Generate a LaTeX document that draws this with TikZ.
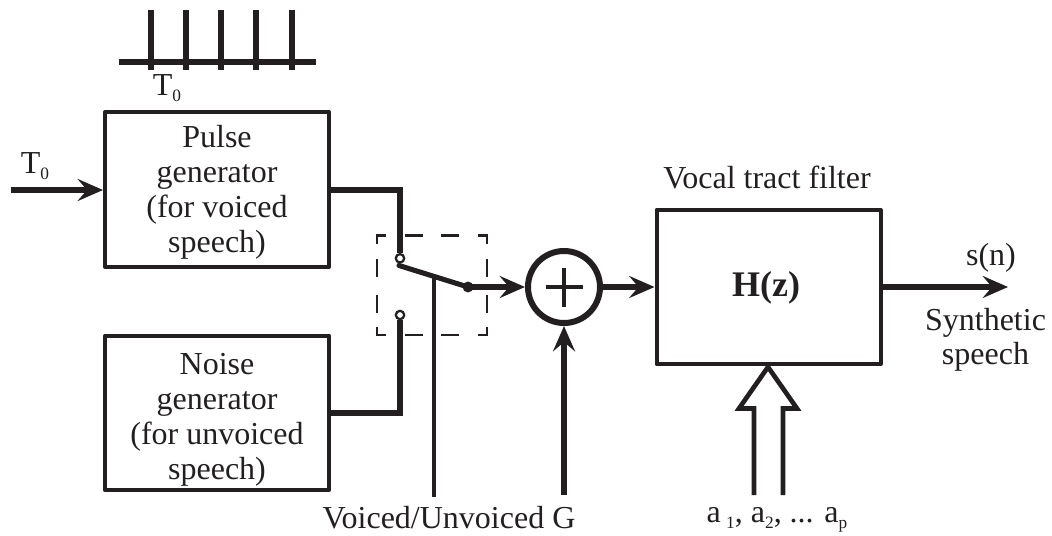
\documentclass[tikz,border=0pt]{standalone}
\usepackage{fontspec}
\setmainfont{Liberation Serif}
\usetikzlibrary{arrows.meta}
\definecolor{ink}{HTML}{231F20}
\tikzset{
  blockbox/.style={draw=ink,line width=3pt,line join=round,minimum width=168pt,minimum height=116pt,inner sep=0pt},
  wire/.style={draw=ink,line width=4.8pt},
  flow/.style={wire,-{Stealth[length=19pt,width=16.5pt,inset=7pt]}},
  thinwire/.style={draw=ink,line width=2.5pt},
  lab/.style={text=ink,inner sep=0pt,align=center,font=\fontsize{24}{25.5}\selectfont},
  blocklab/.style={lab,font=\fontsize{24}{26.2}\selectfont},
  pin/.style={circle,draw=ink,fill=white,line width=1.7pt,minimum size=6.3pt,inner sep=0pt},
  dot/.style={circle,fill=ink,minimum size=8.2pt,inner sep=0pt},
  adder/.style={circle,draw=ink,line width=4.5pt,minimum size=54pt,inner sep=0pt,fill=white},
  dashframe/.style={draw=ink,line width=2pt},
}
\newcommand{\subt}[1]{\raisebox{-0.2em}{\fontsize{13}{13}\selectfont #1}}
\begin{document}
\begin{tikzpicture}[x=0.75pt,y=-0.75pt]
\useasboundingbox (0,0) rectangle (1052,535);
% blocks
\node[blockbox] (pulse) at (217,189.5) {};
\node[blocklab] (pulsetext) at (217,192) {Pulse\\generator\\(for voiced\\speech)};
\node[blockbox] (noise) at (217,413) {};
\node[blocklab] (noisetext) at (217,420) {Noise\\generator\\(for unvoiced\\speech)};
\node[blockbox] (filter) at (768.5,287) {};
\node[lab,font=\fontsize{27}{27}\selectfont] (hz) at (766,288) {\textbf{H(z)}};
\node[adder] (sum) at (564,287) {};
\draw[draw=ink,line width=2.8pt] (545.5,287) -- (582.5,287) (564,267.5) -- (564,306.5);
% dashed switch frame
\draw[dashframe]
  (386,235.5) -- (377,235.5) -- (377,244) (377,259) -- (377,277) (377,295) -- (377,313)
  (377,327) -- (377,335) -- (386,335)
  (404.5,235.5) -- (423,235.5) (441,235.5) -- (459,235.5)
  (404.5,335) -- (423,335) (441,335) -- (459,335)
  (477.5,235.5) -- (487,235.5) -- (487,244) (487,259) -- (487,277) (487,295) -- (487,313)
  (487,327) -- (487,335) -- (477.5,335);
% input
\coordinate (tin) at (11,190);
\draw[flow] (tin) -- (pulse.west |- tin);
% switch
\node[pin] (up) at (400,258.3) {};
\node[pin] (low) at (400,315) {};
\node[dot] (arm) at (468,287) {};
\coordinate (pivot) at (399,265.5);
\coordinate (tap) at (434,277);
\coordinate (vb) at (434,497);
\draw[wire] (pulse.east |- 0,190) -| (up.north);
\draw[wire] (noise.east) -| (low.south);
\draw[wire,line width=3.8pt,line cap=round] (pivot) -- (arm.center);
\draw[thinwire] (tap) -- (vb);
\draw[flow] (arm.center) -- (sum.west);
\coordinate (gb) at (564,495);
\draw[flow] (gb) -- (sum.south);
\draw[flow] (sum.east) -- (filter.west);
\coordinate (sout) at (1008,287);
\draw[flow] (filter.east) -- (sout);
% hollow arrow
\draw[draw=ink,line width=3.5pt,miter limit=6,line join=miter]
  (754,495) -- (754,408.5) -- (739,408.5) -- (768,367) -- (797,408.5) -- (783,408.5) -- (783,495);
% pulse train
\coordinate (b1) at (119,62); \coordinate (b2) at (316,62);
\draw[draw=ink,line width=4.6pt] (b1) -- (b2);
\foreach \x in {151,186,221,256,292}{\draw[draw=ink,line width=4.6pt] (\x,10) -- (\x,70);}
% labels
\node[lab] (t1) at (167,88) {T\subt{0}};
\node[lab] (t2) at (35,166) {T\subt{0}};
\node[lab] (vt) at (767,177) {Vocal tract filter};
\node[lab] (sn) at (991,258) {s(n)};
\node[lab] (syn) at (985.5,340) {Synthetic\\speech};
\node[lab] (vg) at (449,518) {Voiced/Unvoiced G};
\node[lab] (aa) at (777,520) {a\,\subt{1}, a\subt{2}, ... a\subt{p}};
\end{tikzpicture}
\end{document}
